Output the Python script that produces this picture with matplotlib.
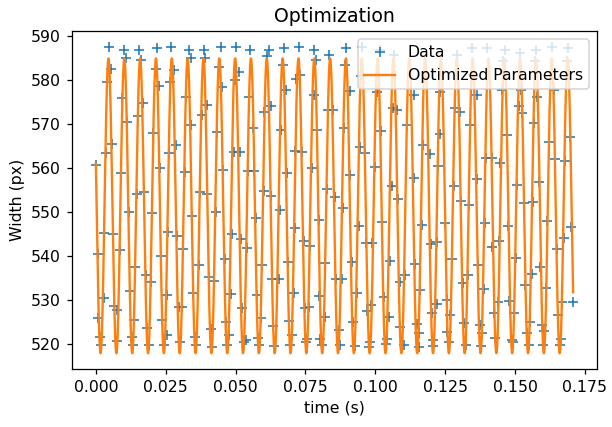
import numpy as np
import matplotlib
matplotlib.use("Agg")
import matplotlib.pyplot as plt

"""Measured width, read off the frames (time in ms)"""
t_ms = [
    0.0, 0.6, 0.83, 1.4, 1.79, 2.74, 2.98, 3.57, 3.93, 4.76, 5.36, 5.6, 6.31, 6.55, 7.5, 7.74,
    8.69, 9.17, 9.52, 10.12, 10.71, 11.31, 11.9, 12.26, 13.1, 13.45, 13.8, 14.05, 14.88, 15.12,
    15.6, 16.1, 17.02, 17.26, 17.86, 18.45, 19.05, 19.64, 20.24, 20.6, 21.43, 21.79, 22.62,
    22.98, 23.21, 23.81, 24.4, 25.36, 25.6, 25.83, 26.19, 26.55, 26.79,
    27.98, 28.57, 29.17, 29.76, 30.12, 30.95, 31.31, 31.79, 32.14, 33.33, 33.93, 34.1, 34.52,
    34.88, 35.36, 35.71, 36.9, 37.26, 37.86, 38.69, 38.9, 39.64, 39.88, 40.48, 41.31, 41.67,
    42.26, 42.86, 43.45, 44.05, 44.64, 45.24, 45.6, 46.07, 46.43, 47.02, 47.62, 48.21, 48.81,
    49.4, 49.8, 50.2, 51.19, 51.5, 51.79, 52.38, 52.98, 53.57, 54.17, 54.4, 54.76, 55.12,
    56.3, 56.7, 57.15, 57.74, 58.0, 58.33, 58.93, 59.52, 60.0, 60.3, 61.07, 61.9, 62.5, 62.7,
    62.9, 63.5, 63.9, 65.5, 66.0, 66.3, 66.9, 67.26, 68.2, 68.5, 68.8, 69.05, 69.5, 70.24,
    70.83, 71.1, 71.43, 71.8, 72.62, 73.21, 73.9, 74.4, 74.8, 75.2, 75.6, 76.2, 76.79, 77.38,
    77.98, 78.21, 78.9, 79.17, 79.76, 80.0, 80.36, 80.95, 82.0, 82.14, 82.74, 83.1, 83.33,
    84.8, 85.5, 86.0, 86.9, 87.5, 88.1, 88.5, 88.8, 89.1, 89.6, 90.9, 91.1, 91.7, 92.1, 92.9,
    93.5, 94.1, 94.6, 94.9, 95.2, 96.3, 96.7, 97.1, 97.6, 98.2, 98.6, 98.9, 100.0, 100.6,
    101.8, 102.0, 102.4, 103.0, 103.9, 104.2, 104.8, 105.4, 106.0, 106.2, 106.6, 107.7, 108.3,
    108.7, 109.0, 110.1, 110.7, 111.3,
    113.7, 113.9, 114.3, 114.9, 115.5, 115.7, 116.1, 116.7, 117.0, 119.6, 119.8, 120.2, 120.5,
    120.8, 122.0, 122.2, 122.6, 123.0, 123.2, 125.0, 125.6, 125.8, 126.2, 126.9, 127.4, 127.99,
    128.6, 129.2, 130.2, 130.8, 131.3, 131.8, 132.3, 133.0, 133.5, 134.0, 134.5, 136.3, 136.5,
    136.9, 137.5, 137.8, 138.1, 138.9, 139.2, 139.6, 140.0,
    141.6, 141.9, 142.4, 142.9, 143.8, 144.2, 144.7, 145.2, 145.6, 146.4, 147.0, 147.5, 148.0,
    148.8, 149.4, 149.8, 150.3, 150.8, 151.3, 151.8, 152.3, 152.6, 153.1, 153.6, 154.2, 155.0,
    155.5, 155.9, 156.3, 156.7, 157.0, 157.4, 158.0, 158.6, 159.1, 159.6, 160.1, 160.5, 161.0,
    161.6, 162.1, 163.1, 163.8, 164.3, 164.9, 165.5, 166.1, 166.5, 166.7, 167.4, 168.0, 168.6,
    169.1, 169.7, 170.2, 170.8,
]
width_px = [
    560.7, 540.5, 525.8, 521.7, 519.8, 530.5, 545.3, 563.3, 579.6, 587.6, 582.4, 565.4, 544.9, 528.7, 527.7, 520.7,
    541.4, 558.8, 575.8, 586.8, 584.9, 570.5, 550.1, 532.0, 521.7, 519.8, 525.5, 537.4, 554.2, 571.9,
    586.8, 584.5, 574.7, 554.6, 535.7, 523.6, 519.8, 534.2, 549.8, 568.0, 582.6, 587.3, 578.7,
    560.1, 540.1, 525.5, 519.8, 522.0, 531.1, 545.5, 563.3, 579.6, 587.6,
    582.3, 565.2, 544.5, 528.3, 520.5, 528.3, 541.7, 559.2, 576.2, 586.8, 584.9, 569.8, 549.1,
    531.5, 521.7, 519.8, 538.0, 554.6, 572.0, 586.8, 584.9, 574.3, 554.2, 535.3, 523.4, 519.4,
    534.3, 550.1, 568.1, 583.0, 587.6, 578.5, 559.5, 539.3, 525.1, 519.8, 522.0, 531.3, 544.9,
    563.7, 580.0, 587.6, 581.9, 563.7, 543.9, 528.1, 520.5, 520.9, 541.9, 559.4, 576.2, 586.8,
    569.0, 559.4, 548.7, 531.1, 521.3, 519.8, 526.0, 538.0, 554.8, 572.8, 585.5, 586.8, 574.2, 553.7,
    534.7, 524.2, 519.6, 534.7, 550.5, 568.6, 583.3, 587.2, 577.7, 558.8, 538.7, 525.2, 519.8, 522.0,
    531.5, 546.3, 563.9, 580.2, 587.6, 581.1, 563.7, 543.3, 528.1, 520.4, 521.1, 528.5, 542.3, 559.9,
    576.7, 586.8, 584.5, 568.6, 548.2, 531.0, 521.1, 519.8, 526.2, 538.5, 555.2, 573.2, 585.7,
    573.2, 553.5, 534.7, 523.2, 519.8, 534.7, 550.8, 569.0, 583.4, 587.2, 577.5, 558.4, 538.7, 525.0, 519.6,
    531.7, 546.9, 564.8, 580.8, 587.6, 563.3, 542.9, 527.5, 519.4, 520.5, 528.9, 542.9, 560.3, 577.2,
    586.8, 568.4, 547.8, 530.7, 520.0, 521.1, 526.2, 538.8, 555.8, 573.6, 585.7, 573.2, 552.9,
    534.0, 523.9, 519.8, 535.7, 569.8,
    576.5, 557.7, 538.1, 524.5, 519.4, 522.4, 532.3, 547.0, 565.2, 563.1, 542.7, 527.0, 519.6,
    520.9, 529.2, 543.1, 560.5, 567.7, 577.3, 547.4, 530.0, 522.8, 520.5, 526.7, 539.3, 555.8,
    573.7, 585.7, 572.7, 552.6, 533.8, 524.7, 519.8, 535.7, 551.6, 569.8, 587.2, 576.6, 557.5,
    538.0, 524.3, 519.6, 522.4, 532.5, 547.6, 562.3, 587.2,
    562.3, 542.1, 527.0, 521.4, 529.6, 543.4, 561.1, 577.7, 584.2, 586.8, 567.5, 546.9, 529.8,
    520.9, 520.5, 527.0, 539.6, 556.1, 574.2, 586.1, 577.7, 572.4, 552.0, 533.3, 522.4, 519.8,
    524.9, 535.9, 552.3, 570.2, 584.2, 586.8, 576.2, 556.9, 537.4, 524.3, 519.8, 523.0, 532.8,
    548.0, 565.8, 587.6, 577.7, 562.0, 541.7, 526.7, 519.8, 521.1, 529.6, 544.0, 561.6, 584.2,
    587.2, 567.1, 546.5, 529.6,
]

"""Optimized sine parameters (as drawn)"""
fit_offset = 551.4   # px
fit_amp = 33.5       # px
fit_freq = 176.5     # Hz
fit_phase = 2.85     # rad
t_end = 0.1708       # s

t = np.array(t_ms) / 1000.0
w = np.array(width_px)

t_fit = np.linspace(0, t_end, 3000)
w_fit = fit_offset + fit_amp * np.sin(2 * np.pi * fit_freq * t_fit + fit_phase)

dpi = 113
fig = plt.figure(figsize=(612 / dpi, 427 / dpi), dpi=dpi)
ax = fig.add_axes([72 / 612, 1 - 368.6 / 427, 525 / 612, 337.4 / 427])
ax.plot(t, w, "+", label="Data")
ax.plot(t_fit, w_fit, label="Optimized Parameters")
ax.set_title("Optimization")
ax.set_xlabel("time (s)")
ax.set_ylabel("Width (px)")
ax.legend(loc="upper right")
fig.savefig("out.png", dpi=dpi)
